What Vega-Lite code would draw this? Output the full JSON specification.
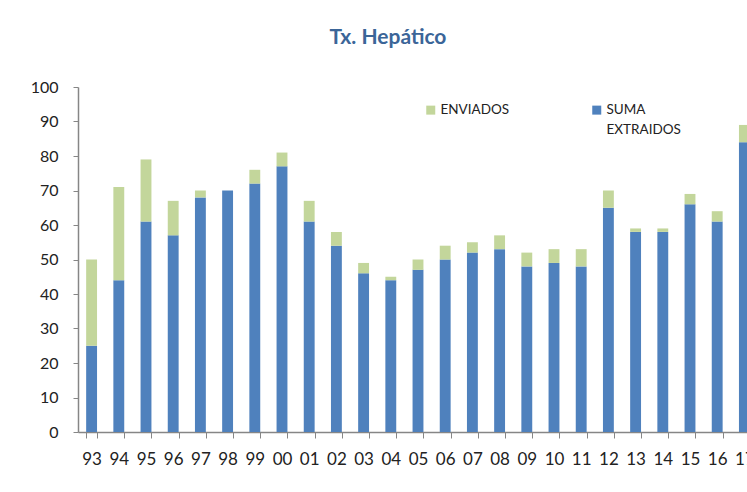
{
  "$schema": "https://vega.github.io/schema/vega-lite/v6.json",
  "autosize": "none",
  "width": 680,
  "height": 345,
  "padding": {"left": 78, "top": 87, "right": 0, "bottom": 60},
  "background": "white",
  "title": {
    "text": "Tx. Hepático",
    "font": "Lato",
    "fontSize": 21,
    "fontWeight": "bold",
    "color": "#3B6598",
    "anchor": "middle",
    "dx": -30,
    "offset": 31
  },
  "data": {
    "values": [
      {"anio": "93", "serie": "SUMA EXTRAIDOS", "valor": 25}, {"anio": "93", "serie": "ENVIADOS", "valor": 25},
      {"anio": "94", "serie": "SUMA EXTRAIDOS", "valor": 44}, {"anio": "94", "serie": "ENVIADOS", "valor": 27},
      {"anio": "95", "serie": "SUMA EXTRAIDOS", "valor": 61}, {"anio": "95", "serie": "ENVIADOS", "valor": 18},
      {"anio": "96", "serie": "SUMA EXTRAIDOS", "valor": 57}, {"anio": "96", "serie": "ENVIADOS", "valor": 10},
      {"anio": "97", "serie": "SUMA EXTRAIDOS", "valor": 68}, {"anio": "97", "serie": "ENVIADOS", "valor": 2},
      {"anio": "98", "serie": "SUMA EXTRAIDOS", "valor": 70}, {"anio": "98", "serie": "ENVIADOS", "valor": 0},
      {"anio": "99", "serie": "SUMA EXTRAIDOS", "valor": 72}, {"anio": "99", "serie": "ENVIADOS", "valor": 4},
      {"anio": "00", "serie": "SUMA EXTRAIDOS", "valor": 77}, {"anio": "00", "serie": "ENVIADOS", "valor": 4},
      {"anio": "01", "serie": "SUMA EXTRAIDOS", "valor": 61}, {"anio": "01", "serie": "ENVIADOS", "valor": 6},
      {"anio": "02", "serie": "SUMA EXTRAIDOS", "valor": 54}, {"anio": "02", "serie": "ENVIADOS", "valor": 4},
      {"anio": "03", "serie": "SUMA EXTRAIDOS", "valor": 46}, {"anio": "03", "serie": "ENVIADOS", "valor": 3},
      {"anio": "04", "serie": "SUMA EXTRAIDOS", "valor": 44}, {"anio": "04", "serie": "ENVIADOS", "valor": 1},
      {"anio": "05", "serie": "SUMA EXTRAIDOS", "valor": 47}, {"anio": "05", "serie": "ENVIADOS", "valor": 3},
      {"anio": "06", "serie": "SUMA EXTRAIDOS", "valor": 50}, {"anio": "06", "serie": "ENVIADOS", "valor": 4},
      {"anio": "07", "serie": "SUMA EXTRAIDOS", "valor": 52}, {"anio": "07", "serie": "ENVIADOS", "valor": 3},
      {"anio": "08", "serie": "SUMA EXTRAIDOS", "valor": 53}, {"anio": "08", "serie": "ENVIADOS", "valor": 4},
      {"anio": "09", "serie": "SUMA EXTRAIDOS", "valor": 48}, {"anio": "09", "serie": "ENVIADOS", "valor": 4},
      {"anio": "10", "serie": "SUMA EXTRAIDOS", "valor": 49}, {"anio": "10", "serie": "ENVIADOS", "valor": 4},
      {"anio": "11", "serie": "SUMA EXTRAIDOS", "valor": 48}, {"anio": "11", "serie": "ENVIADOS", "valor": 5},
      {"anio": "12", "serie": "SUMA EXTRAIDOS", "valor": 65}, {"anio": "12", "serie": "ENVIADOS", "valor": 5},
      {"anio": "13", "serie": "SUMA EXTRAIDOS", "valor": 58}, {"anio": "13", "serie": "ENVIADOS", "valor": 1},
      {"anio": "14", "serie": "SUMA EXTRAIDOS", "valor": 58}, {"anio": "14", "serie": "ENVIADOS", "valor": 1},
      {"anio": "15", "serie": "SUMA EXTRAIDOS", "valor": 66}, {"anio": "15", "serie": "ENVIADOS", "valor": 3},
      {"anio": "16", "serie": "SUMA EXTRAIDOS", "valor": 61}, {"anio": "16", "serie": "ENVIADOS", "valor": 3},
      {"anio": "17", "serie": "SUMA EXTRAIDOS", "valor": 84}, {"anio": "17", "serie": "ENVIADOS", "valor": 5}
    ]
  },
  "mark": {"type": "bar"},
  "encoding": {
    "x": {
      "field": "anio",
      "type": "nominal",
      "sort": null,
      "scale": {"paddingInner": 0.6, "paddingOuter": 0.3},
      "axis": {
        "title": null,
        "labelAngle": 0,
        "labelFont": "Lato",
        "labelFontSize": 17,
        "labelColor": "#222222",
        "labelPadding": 13,
        "tickBand": "extent",
        "tickSize": 6,
        "tickColor": "#868686",
        "domainColor": "#868686",
        "domainWidth": 1.5,
        "grid": false
      }
    },
    "y": {
      "field": "valor",
      "type": "quantitative",
      "stack": "zero",
      "scale": {"domain": [0, 100], "nice": false},
      "axis": {
        "title": null,
        "values": [0, 10, 20, 30, 40, 50, 60, 70, 80, 90, 100],
        "labelFont": "Lato",
        "labelFontSize": 16,
        "labelColor": "#222222",
        "labelPadding": 15,
        "tickSize": 5,
        "tickColor": "#868686",
        "domainColor": "#868686",
        "domainWidth": 1.5,
        "grid": false
      }
    },
    "color": {
      "field": "serie",
      "type": "nominal",
      "scale": {"domain": ["ENVIADOS", "SUMA EXTRAIDOS"], "range": ["#C3D69B", "#4F81BD"]},
      "legend": {
        "title": null,
        "orient": "none",
        "direction": "horizontal",
        "legendX": 346,
        "legendY": 16,
        "symbolType": "square",
        "symbolSize": 81,
        "symbolStrokeWidth": 0,
        "labelFont": "Lato",
        "labelFontSize": 13.5,
        "labelColor": "#222222",
        "labelOffset": 3,
        "labelBaseline": "middle",
        "columnPadding": 80,
        "labelExpr": "datum.label == 'ENVIADOS' ? ['ENVIADOS', ''] : ['SUMA', 'EXTRAIDOS']"
      }
    },
    "order": {"field": "serie", "sort": "descending"}
  },
  "config": {
    "view": {"stroke": null},
    "style": {"guide-label": {"lineHeight": 20}}
  }
}
